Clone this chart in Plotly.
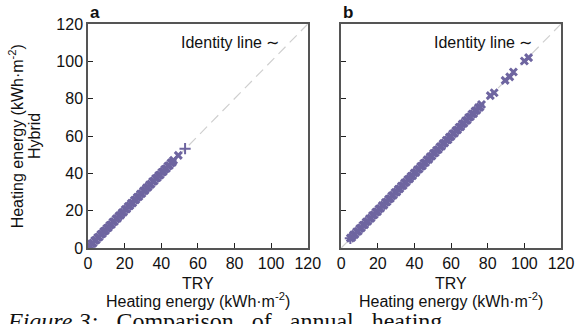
import plotly.graph_objects as go

# Panel a: TRY vs Hybrid heating energy (kWh/m2)
a_try = [0.4, 1.2, 2.0, 2.8, 3.7, 4.5, 5.3, 6.1, 7.0, 7.8, 8.6, 9.5, 10.3, 11.1, 11.9, 12.8,
         13.6, 14.4, 15.3, 16.1, 16.9, 17.8, 18.6, 19.4, 20.3, 21.1, 21.9, 22.8, 23.6, 24.4,
         25.3, 26.1, 26.9, 27.8, 28.6, 29.4, 30.3, 31.1, 31.9, 32.8, 33.6, 34.4, 35.3, 36.1,
         36.9, 37.8, 38.6, 39.4, 40.3, 41.1, 41.9, 42.8, 43.6, 44.4, 45.3, 46.1, 46.7, 49.3]
a_hyb = [0.7, 1.0, 2.3, 2.6, 4.0, 4.3, 5.6, 5.9, 7.3, 7.6, 8.9, 9.3, 10.6, 10.9, 12.2, 12.6,
         13.9, 14.2, 15.6, 15.9, 17.2, 17.6, 18.9, 19.2, 20.6, 20.9, 22.2, 22.6, 23.9, 24.2,
         25.6, 25.9, 27.2, 27.6, 28.9, 29.2, 30.6, 30.9, 32.2, 32.6, 33.9, 34.2, 35.6, 35.9,
         37.2, 37.6, 38.9, 39.2, 40.6, 40.9, 42.2, 42.6, 43.9, 44.2, 45.6, 45.9, 47.0, 49.6]
a_plus_try = [53.0]
a_plus_hyb = [53.2]

# Panel b
b_try = [5.0, 5.8, 6.7, 7.5, 8.4, 9.3, 10.1, 11.0, 11.9, 12.8, 13.6, 14.5, 15.4, 16.3, 17.1,
         18.0, 18.9, 19.8, 20.6, 21.5, 22.4, 23.3, 24.1, 25.0, 25.9, 26.8, 27.6, 28.5, 29.4,
         30.3, 31.1, 32.0, 32.9, 33.8, 34.6, 35.5, 36.4, 37.3, 38.1, 39.0, 39.9, 40.8, 41.6,
         42.5, 43.4, 44.3, 45.1, 46.0, 46.9, 47.8, 48.6, 49.5, 50.4, 51.3, 52.1, 53.0, 53.9,
         54.8, 55.6, 56.5, 57.4, 58.3, 59.1, 60.0, 60.9, 61.8, 62.6, 63.5, 64.4, 65.3, 66.1,
         67.0, 67.9, 68.8, 69.6, 70.5, 71.4, 72.3, 73.1, 74.0, 74.9, 75.8, 76.6,
         81.4, 83.5, 89.5, 92.0, 94.0, 100.0, 102.3]
b_hyb = [5.3, 5.6, 7.0, 7.3, 8.7, 9.0, 10.4, 10.8, 12.2, 12.5, 13.9, 14.3, 15.7, 16.0, 17.4,
         17.8, 19.2, 19.5, 20.9, 21.3, 22.7, 23.0, 24.4, 24.8, 26.2, 26.5, 27.9, 28.3, 29.7,
         30.0, 31.4, 31.8, 33.2, 33.5, 34.9, 35.3, 36.7, 37.0, 38.4, 38.8, 40.2, 40.5, 41.9,
         42.3, 43.7, 44.0, 45.4, 45.8, 47.2, 47.5, 48.9, 49.3, 50.7, 51.0, 52.4, 52.8, 54.2,
         54.5, 55.9, 56.3, 57.7, 58.0, 59.4, 59.8, 61.2, 61.5, 62.9, 63.3, 64.7, 65.0, 66.4,
         66.8, 68.2, 68.5, 69.9, 70.3, 71.7, 72.0, 73.4, 73.8, 75.2, 75.5, 76.9,
         81.6, 83.2, 89.8, 91.7, 94.3, 100.2, 102.0]
b_plus_try = [5.0]
b_plus_hyb = [5.2]

identity = [0, 120]
ticks = [0, 20, 40, 60, 80, 100, 120]

COL = "rgb(110,101,160)"
FONT = "Liberation Sans, Arial, sans-serif"

fig = go.Figure()
panels = [("x", "y", a_try, a_hyb, a_plus_try, a_plus_hyb),
          ("x2", "y2", b_try, b_hyb, b_plus_try, b_plus_hyb)]
for xa, ya, xt, yh, xp, yp in panels:
    fig.add_trace(go.Scatter(x=identity, y=identity, mode="lines", xaxis=xa, yaxis=ya,
                             line=dict(color="#cfcfcf", width=1.2, dash="10px,6px"),
                             showlegend=False, hoverinfo="skip"))
    fig.add_trace(go.Scatter(x=xt, y=yh, mode="markers", xaxis=xa, yaxis=ya,
                             marker=dict(symbol="x-thin", size=7, line=dict(color=COL, width=3)),
                             showlegend=False))
    fig.add_trace(go.Scatter(x=xp, y=yp, mode="markers", xaxis=xa, yaxis=ya,
                             marker=dict(symbol="cross-thin", size=8, line=dict(color=COL, width=2)),
                             showlegend=False))

axis_common = dict(range=[0, 120], tickvals=ticks, ticks="inside", ticklen=5, tickwidth=1,
                   tickcolor="#222", showline=True, linecolor="#555", linewidth=1.5,
                   mirror=True, showgrid=False, zeroline=False,
                   tickfont=dict(family=FONT, size=16, color="#111"))

fig.update_layout(
    width=586, height=324,
    margin=dict(l=88, r=16, t=24, b=76),
    paper_bgcolor="white", plot_bgcolor="white",
    xaxis=dict(domain=[0, 0.4647], anchor="y", **axis_common),
    yaxis=dict(domain=[0, 1], anchor="x", **axis_common),
    xaxis2=dict(domain=[0.5353, 1], anchor="y2", **axis_common),
    yaxis2=dict(domain=[0, 1], anchor="x2", showticklabels=False, **axis_common),
)

ann = []
txt = dict(family=FONT, size=16, color="#111")
for xr, yr in (("x", "y"), ("x2", "y2")):
    ann.append(dict(x=105.5, y=110, xref=xr, yref=yr, xanchor="right", yanchor="middle",
                    text="Identity line \u223c", showarrow=False, font=txt))
# panel letters
ann.append(dict(x=0, y=1.0, xref="paper", yref="paper", xanchor="left", yanchor="bottom",
                text="<b>a</b>", showarrow=False, font=dict(family=FONT, size=17, color="#111")))
ann.append(dict(x=0.5353, y=1.0, xref="paper", yref="paper", xanchor="left", yanchor="bottom",
                text="<b>b</b>", showarrow=False, font=dict(family=FONT, size=17, color="#111")))
# x titles (two lines)
for cx in (0.2324, 0.7676):
    ann.append(dict(x=cx, y=-(283 - 248) / 224, xref="paper", yref="paper", xanchor="center",
                    yanchor="middle", text="TRY", showarrow=False, font=txt))
    ann.append(dict(x=cx, y=-(300 - 248) / 224, xref="paper", yref="paper", xanchor="center",
                    yanchor="middle", text="Heating energy (kWh\u00b7m<sup>-2</sup>)",
                    showarrow=False, font=txt))
# y title (two lines)
ann.append(dict(x=(15 - 88) / 482, y=0.5, xref="paper", yref="paper", xanchor="center",
                yanchor="middle", text="Heating energy (kWh\u00b7m<sup>-2</sup>)", textangle=-90,
                showarrow=False, font=txt))
ann.append(dict(x=(33 - 88) / 482, y=0.5, xref="paper", yref="paper", xanchor="center",
                yanchor="middle", text="Hybrid", textangle=-90, showarrow=False, font=txt))
# clipped caption
ann.append(dict(x=-0.176, y=-0.259, xref="paper", yref="paper", xanchor="left", yanchor="top",
                text="<i>Figure 3:</i>&nbsp;&nbsp;&nbsp;Comparison&nbsp;&nbsp;&nbsp;of&nbsp;&nbsp;&nbsp;annual&nbsp;&nbsp;&nbsp;heating",
                showarrow=False,
                font=dict(family="Liberation Serif, serif", size=24, color="#111")))
fig.update_layout(annotations=ann)

fig.write_html("out.html", config={"displayModeBar": False},
               post_script="document.body.style.margin='0px';document.body.style.overflow='hidden';")
